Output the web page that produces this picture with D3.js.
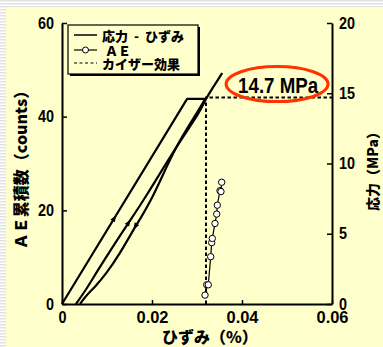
<!DOCTYPE html>
<html>
<head>
<meta charset="utf-8">
<script src="https://cdn.jsdelivr.net/npm/d3@7"></script>
<style>
  body { margin: 0; }
  svg { display: block; }
</style>
</head>
<body>
<div class="canvas"></div>
<script>
// stress - strain path: loading, hold, unloading, reloading
const loadStrain = [0, 0.0278, 0.0318];
const loadStress = [0, 14.6, 14.6];
const unloadStrain = [0.0318, 0.03, 0.0251, 0.02, 0.0162, 0.0127, 0.0096, 0.0073, 0.0051, 0.004];
const unloadStress = [14.6, 13.59, 11.17, 7.4, 5.48, 3.49, 2.06, 1.21, 0.5, 0];
const reloadStrain = [0.0031, 0.0056, 0.0073, 0.0111, 0.0149, 0.0182, 0.0256, 0.0307, 0.0318, 0.0336, 0.0356];
const reloadStress = [0, 1.14, 2.06, 3.99, 5.84, 7.4, 11.32, 13.67, 14.52, 15.44, 16.44];

// AE cumulative counts
const aeStrain = [0.03178, 0.03216, 0.03251, 0.03304, 0.03327, 0.0334, 0.034, 0.03438, 0.03451, 0.03511, 0.03533, 0.03549];
const aeCount = [1.9, 4.1, 4.1, 10.1, 13.1, 14.0, 17.2, 19.2, 21.1, 24.2, 24.0, 26.0];

// kaiser effect
const kaiserStrain = 0.032;
const kaiserStress = 14.7;
const kaiserLabel = "14.7 MPa";

// ticks
const xTicks = [0, 0.02, 0.04, 0.06];
const xTickLabels = ["0", "0.02", "0.04", "0.06"];
const aeTicks = [0, 20, 40, 60];
const stressTicks = [0, 5, 10, 15, 20];

const legendLabels = ["応力\u00a0\u00a0-\u00a0\u00a0ひずみ", "ＡＥ", "カイザー効果"];

const width = 383;
const height = 347;
const margin = { top: 23, left: 62, right: 51, bottom: 43 };
const graphWidth = width - margin.left - margin.right;
const graphHeight = height - margin.top - margin.bottom;

const jpFont = "'Noto Sans CJK JP', 'Noto Sans', sans-serif";
const numFont = "'Liberation Sans', Arial, sans-serif";

const svg = d3
  .select(".canvas")
  .append("svg")
  .attr("width", width)
  .attr("height", height);

// striped page edge + yellow panel
const pattern = svg
  .append("defs")
  .append("pattern")
  .attr("id", "stripes")
  .attr("patternUnits", "userSpaceOnUse")
  .attr("width", 4)
  .attr("height", 3);
pattern.append("rect").attr("width", 4).attr("height", 3).attr("fill", "#ffffff");
pattern.append("rect").attr("width", 4).attr("height", 1.5).attr("fill", "#e2e2e2");

svg.append("rect").attr("width", width).attr("height", height).attr("fill", "url(#stripes)");
svg
  .append("rect")
  .attr("x", 6)
  .attr("y", 7)
  .attr("width", width - 6)
  .attr("height", height - 7)
  .attr("fill", "#ffffcc");

const graph = svg
  .append("g")
  .attr("transform", `translate(${margin.left},${margin.top})`);

// scales
const x = d3.scaleLinear().domain([0, 0.06]).range([0, graphWidth]);
const yAE = d3.scaleLinear().domain([0, 60]).range([graphHeight, 0]);
const yS = d3.scaleLinear().domain([0, 20]).range([graphHeight, 0]);

const zip = (a, b) => a.map((v, i) => [v, b[i]]);
const loadPts = zip(loadStrain, loadStress);
const unloadPts = zip(unloadStrain, unloadStress);
const reloadPts = zip(reloadStrain, reloadStress);

const ssLine = d3
  .line()
  .x((d) => x(d[0]))
  .y((d) => yS(d[1]));
const ssCurve = d3
  .line()
  .x((d) => x(d[0]))
  .y((d) => yS(d[1]))
  .curve(d3.curveBasis);

// kaiser effect dashed line
graph
  .append("path")
  .attr(
    "d",
    d3.line()([
      [x(kaiserStrain), yS(0)],
      [x(kaiserStrain), yS(kaiserStress)],
      [x(0.06), yS(kaiserStress)],
    ])
  )
  .attr("fill", "none")
  .attr("stroke", "#000")
  .attr("stroke-width", 2)
  .attr("stroke-dasharray", "3.5,2.5");

// stress-strain curve
[
  [loadPts, ssLine],
  [unloadPts, ssCurve],
  [reloadPts, ssCurve],
].forEach(([pts, gen]) => {
  graph
    .append("path")
    .datum(pts)
    .attr("fill", "none")
    .attr("stroke", "#000")
    .attr("stroke-width", 2.2)
    .attr("stroke-linejoin", "round")
    .attr("d", gen);
});

// direction arrows on the branches
const arrowAt = (pts, s) => {
  for (let i = 0; i < pts.length - 1; i++) {
    const a = pts[i], b = pts[i + 1];
    const lo = Math.min(a[0], b[0]), hi = Math.max(a[0], b[0]);
    if (s >= lo && s <= hi) {
      const t = (s - a[0]) / (b[0] - a[0]);
      const px = x(a[0]) + t * (x(b[0]) - x(a[0]));
      const py = yS(a[1]) + t * (yS(b[1]) - yS(a[1]));
      const ang = (Math.atan2(yS(b[1]) - yS(a[1]), x(b[0]) - x(a[0])) * 180) / Math.PI;
      return { px, py, ang };
    }
  }
};
[
  arrowAt(loadPts, 0.0116),
  arrowAt(reloadPts, 0.0148),
  arrowAt(unloadPts, 0.0163),
].forEach((a) => {
  graph
    .append("path")
    .attr("d", "M3.5,0L-3,-2.6L-3,2.6Z")
    .attr("fill", "#000")
    .attr("transform", `translate(${a.px},${a.py}) rotate(${a.ang})`);
});

// AE series
graph
  .append("path")
  .datum(zip(aeStrain, aeCount))
  .attr("fill", "none")
  .attr("stroke", "#000")
  .attr("stroke-width", 1.2)
  .attr(
    "d",
    d3
      .line()
      .x((d) => x(d[0]))
      .y((d) => yAE(d[1]))
  );

graph
  .selectAll("circle.ae")
  .data(zip(aeStrain, aeCount))
  .enter()
  .append("circle")
  .attr("class", "ae")
  .attr("cx", (d) => x(d[0]))
  .attr("cy", (d) => yAE(d[1]))
  .attr("r", 3.2)
  .attr("fill", "#fff")
  .attr("stroke", "#000")
  .attr("stroke-width", 1);

// axes
const xAxis = d3
  .axisBottom(x)
  .tickValues(xTicks)
  .tickFormat((d, i) => xTickLabels[i])
  .tickSizeInner(-4)
  .tickSizeOuter(0)
  .tickPadding(8);
const aeAxis = d3
  .axisLeft(yAE)
  .tickValues(aeTicks)
  .tickFormat(d3.format("d"))
  .tickSizeInner(-5)
  .tickSizeOuter(0)
  .tickPadding(8);
const sAxis = d3
  .axisRight(yS)
  .tickValues(stressTicks)
  .tickFormat(d3.format("d"))
  .tickSizeInner(-5)
  .tickSizeOuter(0)
  .tickPadding(7);

const xAxisGroup = graph
  .append("g")
  .attr("transform", `translate(0,${graphHeight})`)
  .call(xAxis);
const aeAxisGroup = graph.append("g").call(aeAxis);
const sAxisGroup = graph
  .append("g")
  .attr("transform", `translate(${graphWidth},0)`)
  .call(sAxis);

[xAxisGroup, aeAxisGroup, sAxisGroup].forEach((g) => {
  g.select(".domain").attr("stroke", "#000").attr("stroke-width", 2);
  g.selectAll(".tick line").attr("stroke", "#000").attr("stroke-width", 1.5);
  g.selectAll(".tick text")
    .attr("fill", "#000")
    .attr("font-family", numFont)
    .attr("font-weight", "bold")
    .attr("font-size", 16)
    .attr("textLength", function () {
      return 8 * this.textContent.length;
    })
    .attr("lengthAdjust", "spacingAndGlyphs");
});

// axis titles
svg
  .append("text")
  .attr("transform", `translate(20,${margin.top + 143}) rotate(-90)`)
  .attr("text-anchor", "middle")
  .attr("dominant-baseline", "central")
  .attr("font-family", jpFont)
  .attr("font-weight", 900)
  .attr("font-size", 16)
  .text("ＡＥ累積数（counts）");

svg
  .append("text")
  .attr("transform", `translate(372,${margin.top + 145}) rotate(-90)`)
  .attr("text-anchor", "middle")
  .attr("dominant-baseline", "central")
  .attr("font-family", jpFont)
  .attr("font-weight", 900)
  .attr("font-size", 14)
  .text("応力（MPa）");

svg
  .append("text")
  .attr("x", 162)
  .attr("y", 336)
  .attr("dominant-baseline", "central")
  .attr("font-family", jpFont)
  .attr("font-weight", 900)
  .attr("font-size", 16)
  .text("ひずみ（%）");

// legend
const legend = graph.append("g").attr("transform", "translate(6,2)");
legend
  .append("rect")
  .attr("x", 2)
  .attr("y", 2)
  .attr("width", 130)
  .attr("height", 49)
  .attr("fill", "#000");
legend
  .append("rect")
  .attr("width", 130)
  .attr("height", 49)
  .attr("fill", "#ffffcc")
  .attr("stroke", "#000")
  .attr("stroke-width", 1.2);

const rowY = [10, 25, 38];
legend
  .append("line")
  .attr("x1", 6).attr("x2", 29)
  .attr("y1", rowY[0]).attr("y2", rowY[0])
  .attr("stroke", "#000").attr("stroke-width", 1.5);
legend
  .append("line")
  .attr("x1", 6).attr("x2", 29)
  .attr("y1", rowY[1]).attr("y2", rowY[1])
  .attr("stroke", "#000").attr("stroke-width", 1.2);
legend
  .append("circle")
  .attr("cx", 17.5).attr("cy", rowY[1]).attr("r", 3)
  .attr("fill", "#fff").attr("stroke", "#000").attr("stroke-width", 1);
legend
  .append("line")
  .attr("x1", 6).attr("x2", 29)
  .attr("y1", rowY[2]).attr("y2", rowY[2])
  .attr("stroke", "#000").attr("stroke-width", 1.2)
  .attr("stroke-dasharray", "3,2.5");

legend
  .selectAll("text.lg")
  .data(legendLabels)
  .enter()
  .append("text")
  .attr("class", "lg")
  .attr("x", (d, i) => (i === 1 ? 37 : 34))
  .attr("y", (d, i) => rowY[i])
  .attr("dominant-baseline", "central")
  .attr("font-family", jpFont)
  .attr("font-weight", 900)
  .attr("font-size", 13)
  .text((d) => d);

// kaiser annotation
const annX = x(0.0478);
const annY = yS(15.65);
graph
  .append("ellipse")
  .attr("cx", annX)
  .attr("cy", annY)
  .attr("rx", 51)
  .attr("ry", 17.5)
  .attr("fill", "none")
  .attr("stroke", "#ff3300")
  .attr("stroke-width", 3);
graph
  .append("text")
  .attr("x", annX + 1)
  .attr("y", annY + 8.5)
  .attr("text-anchor", "middle")
  .attr("font-family", numFont)
  .attr("font-weight", "bold")
  .attr("font-size", 22)
  .attr("textLength", 80)
  .attr("lengthAdjust", "spacingAndGlyphs")
  .text(kaiserLabel);
</script>
</body>
</html>
